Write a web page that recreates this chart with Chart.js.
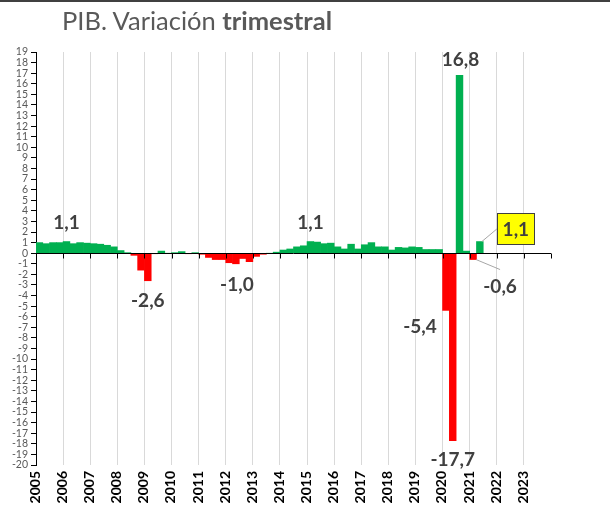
<!DOCTYPE html>
<html lang="es">
<head>
  <meta charset="UTF-8" />
  <title>PIB. Variación trimestral</title>
  <style>
    * { box-sizing: border-box; }
    body {
      margin: 0;
      background: #fff;
      font-family: Lato, "Open Sans", sans-serif;
    }
    .wrap {
      position: relative;
      width: 610px;
      height: 512px;
      overflow: hidden;
    }
    .topline {
      position: absolute;
      left: 0; top: 0;
      width: 610px; height: 2px;
      background: #404040;
    }
    h1 {
      position: absolute;
      left: 62px;
      top: 7px;
      margin: 0;
      font-size: 25.5px;
      line-height: 26px;
      font-weight: normal;
      color: #595959;
      white-space: nowrap;
    }
    h1 b { font-weight: bold; }
    canvas { position: absolute; left: 0; top: 0; }
  </style>
</head>
<body>
  <div class="wrap">
    <canvas id="pibChart" width="610" height="512"></canvas>
    <div class="topline"></div>
    <h1>PIB. Variación <b>trimestral</b></h1>
  </div>

  <script src="https://cdn.jsdelivr.net/npm/chart.js"></script>
  <script>
    // tick labels of the year axis
    const years = ['2005', '2006', '2007', '2008', '2009', '2010', '2011', '2012', '2013', '2014',
                   '2015', '2016', '2017', '2018', '2019', '2020', '2021', '2022', '2023'];
    const quarterNames = ['T1', 'T2', 'T3', 'T4'];

    // quarterly GDP change (%), 2005T1 .. 2021T2
    const gdpQoQ = [
      1.0, 0.9, 1.0, 1.0,      // 2005
      1.1, 0.9, 1.0, 0.95,     // 2006
      0.9, 0.85, 0.75, 0.6,    // 2007
      0.25, 0.05, -0.2, -1.6,  // 2008
      -2.6, -0.05, 0.2, 0.0,   // 2009
      0.05, 0.15, -0.05, 0.05, // 2010
      -0.1, -0.4, -0.6, -0.6,  // 2011
      -0.9, -1.0, -0.5, -0.8,  // 2012
      -0.3, -0.1, 0.0, 0.1,    // 2013
      0.3, 0.4, 0.6, 0.7,      // 2014
      1.1, 1.05, 0.9, 0.95,    // 2015
      0.6, 0.4, 0.85, 0.4,     // 2016
      0.8, 1.0, 0.6, 0.6,      // 2017
      0.3, 0.55, 0.5, 0.6,     // 2018
      0.55, 0.35, 0.35, 0.35,  // 2019
      -5.4, -17.7, 16.8, 0.2,  // 2020
      -0.6, 1.1                // 2021
    ];

    // highlighted values written on the chart
    const callouts = [
      { index: 4,  text: '1,1',   dx: 0,   dy: -20 },
      { index: 16, text: '-2,6',  dx: 0,   dy: 19 },
      { index: 29, text: '-1,0',  dx: 1,   dy: 20 },
      { index: 40, text: '1,1',   dx: 0,   dy: -20 },
      { index: 60, text: '-5,4',  dx: -26, dy: 15 },
      { index: 61, text: '-17,7', dx: 0,   dy: 18 },
      { index: 62, text: '16,8',  dx: 1,   dy: -16 },
      { index: 64, text: '-0,6',  dx: 27,  dy: 26, leader: true },
      { index: 65, text: '1,1',   dx: 36,  dy: -13, leader: true, box: true }
    ];

    const GREEN = '#00B050';
    const RED = '#FF0000';

    const labels = [];
    years.forEach(y => quarterNames.forEach(q => labels.push(y + ' ' + q)));
    const values = labels.map((_, i) => (i < gdpQoQ.length ? gdpQoQ[i] : null));

    // zero line with a tick mark at each year boundary
    const zeroAxis = {
      id: 'zeroAxis',
      afterDatasetsDraw(chart) {
        const { ctx, chartArea } = chart;
        const y0 = Math.round(chart.scales.y.getPixelForValue(0)) + 0.5;
        const step = (chartArea.right - chartArea.left) / years.length;
        ctx.save();
        ctx.strokeStyle = '#000';
        ctx.lineWidth = 1;
        ctx.beginPath();
        ctx.moveTo(chartArea.left, y0);
        ctx.lineTo(chartArea.right, y0);
        for (let i = 0; i <= years.length; i++) {
          const x = Math.round(chartArea.left + i * step) + 0.5;
          ctx.moveTo(x, y0);
          ctx.lineTo(x, y0 + 5);
        }
        ctx.stroke();
        ctx.restore();
      }
    };

    const calloutPlugin = {
      id: 'callouts',
      afterDatasetsDraw(chart) {
        const { ctx } = chart;
        const bars = chart.getDatasetMeta(0).data;
        ctx.save();
        ctx.font = 'bold 19px Lato, sans-serif';
        ctx.textAlign = 'center';
        ctx.textBaseline = 'middle';
        callouts.forEach(c => {
          const bar = bars[c.index];
          const x = bar.x + c.dx;
          const y = bar.y + c.dy;
          if (c.box) {
            const w = 37, h = 31;
            if (c.leader) {
              ctx.strokeStyle = '#a6a6a6';
              ctx.lineWidth = 1;
              ctx.beginPath();
              ctx.moveTo(bar.x + 2, bar.y);
              ctx.lineTo(x - w / 2, y);
              ctx.stroke();
            }
            ctx.fillStyle = '#FFFF00';
            ctx.fillRect(x - w / 2, y - h / 2, w, h);
            ctx.strokeStyle = '#404040';
            ctx.strokeRect(Math.round(x - w / 2) + 0.5, Math.round(y - h / 2) + 0.5, w, h);
          } else if (c.leader) {
            ctx.strokeStyle = '#a6a6a6';
            ctx.lineWidth = 1;
            ctx.beginPath();
            ctx.moveTo(bar.x + 3, bar.y);
            ctx.lineTo(x, y - 16);
            ctx.stroke();
          }
          ctx.fillStyle = '#404040';
          ctx.fillText(c.text, x, y + 1);
        });
        ctx.restore();
      }
    };

    new Chart(document.getElementById('pibChart'), {
      type: 'bar',
      data: {
        labels: labels,
        datasets: [{
          data: values,
          backgroundColor: values.map(v => (v < 0 ? RED : GREEN)),
          borderWidth: 0,
          barPercentage: 1,
          categoryPercentage: 1
        }]
      },
      options: {
        responsive: false,
        animation: false,
        layout: { padding: { top: 52, right: 59, left: 0, bottom: 0 } },
        plugins: {
          legend: { display: false },
          tooltip: { enabled: false }
        },
        scales: {
          x: {
            type: 'category',
            offset: true,
            afterFit: scale => { scale.height = 47; },
            border: { display: false },
            grid: {
              offset: true,
              drawTicks: false,
              color: ctx => (ctx.index % 4 === 0 ? '#d9d9d9' : 'rgba(0,0,0,0)')
            },
            ticks: {
              autoSkip: false,
              minRotation: 90,
              maxRotation: 90,
              padding: 6,
              labelOffset: -4,
              color: '#000',
              font: { family: 'Lato', size: 14, weight: 'bold' },
              callback: (v, i) => (i % 4 === 0 ? years[i / 4] : '')
            }
          },
          y: {
            min: -20,
            max: 19,
            bounds: 'data',
            afterFit: scale => { scale.width = 36; },
            afterBuildTicks: scale => {
              scale.ticks = [];
              for (let v = -20; v <= 19; v++) scale.ticks.push({ value: v });
            },
            border: { display: true, color: '#000', width: 1 },
            grid: { drawOnChartArea: false, color: '#000', tickLength: 5 },
            ticks: {
              autoSkip: false,
              stepSize: 1,
              padding: 3,
              color: '#595959',
              font: { family: 'Lato', size: 10.5 }
            }
          }
        }
      },
      plugins: [zeroAxis, calloutPlugin]
    });
  </script>
</body>
</html>
